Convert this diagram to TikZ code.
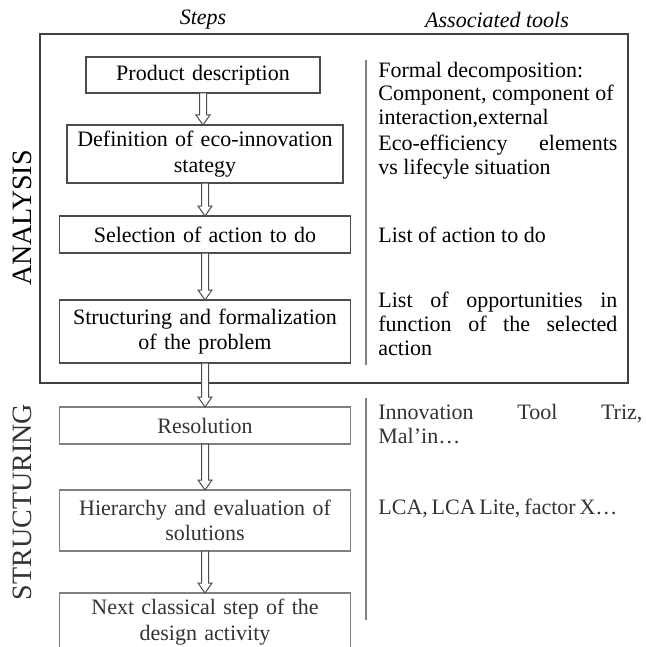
\documentclass[tikz,border=0pt]{standalone}
\usepackage{fontspec}
\setmainfont{Liberation Serif}
\usepackage{tikz}
\usetikzlibrary{calc, positioning}

\begin{document}
\begin{tikzpicture}[x=0.5pt, y=-0.5pt, font=\fontsize{11}{12.75}\selectfont]
  \tikzstyle{stepbox}=[draw=black!70, line width=0.6pt, align=center, inner xsep=0pt,
                       inner ysep=2pt, outer sep=0pt, text width=145.5pt, minimum height=18.5pt]
  \tikzstyle{faded}=[text=black!80]
  \tikzstyle{later}=[faded, draw=black!50]
  \tikzstyle{tool}=[anchor=base west, inner sep=0pt, align=justify, text width=119.5pt,
                    font=\fontsize{11}{12}\selectfont]
  \tikzstyle{phase}=[rotate=90, font=\fontsize{14}{14}\selectfont]
  \tikzstyle{header}=[font=\fontsize{11}{12}\selectfont\itshape]
  \tikzstyle{sepline}=[draw=black!50, line width=1pt]
  \tikzstyle{hollow}=[draw=black!70, fill=white, line width=0.5pt,
     to path={let \p1=(\tikztostart), \p2=(\tikztotarget) in
       (\x1-1.75pt,\y1) -- (\x1-1.75pt,\y2+5pt) -- (\x1-3.5pt,\y2+5pt) -- (\x1,\y2)
       -- (\x1+3.5pt,\y2+5pt) -- (\x1+1.75pt,\y2+5pt) -- (\x1+1.75pt,\y1) -- cycle}]

  \useasboundingbox (0,0) rectangle (646,647);

  % column titles
  \node[header] (steps) at (203,20) {Steps};
  \node[header] (tools) at (497,20) {Associated tools};

  % analysis frame
  \draw[draw=black!75, line width=0.8pt] (40,34) rectangle (628,383);
  \node[phase]        (ana)  at (22,218) {ANALYSIS};
  \node[phase, faded] (stru) at (22,502) {STRUCTURING};

  % steps
  \node[stepbox, text width=117pt, minimum height=18pt] (prod) at (203,75) {Product description};
  \node[stepbox, text width=138pt, minimum height=29pt, xshift=1pt] (strat) [below=16pt of prod]
       {Definition of eco-innovation\\stategy};
  \node[stepbox]                        (sel)  [below=16.5pt of strat] {Selection of action to do};
  \node[stepbox, minimum height=31.5pt] (form) [below=23.5pt of sel]
       {Structuring and formalization\\of the problem};
  \node[stepbox, later]                 (res)  [below=22pt of form]  {Resolution};
  \node[stepbox, later, minimum height=30.5pt] (hier) [below=23pt of res]
       {Hierarchy and evaluation of\\solutions};
  \node[stepbox, later, minimum height=29pt]   (next) [below=21pt of hier]
       {Next classical step of the\\design activity};

  % tools
  \draw[sepline] (366,60) -- (366,365);
  \draw[sepline] (366,398) -- (366,620);
  \node[tool] (decomp) at (378,77) {Formal decomposition:\\Component, component of\\interaction,external};
  \node[tool] (ecoeff) at (378,150) {Eco-efficiency elements\linebreak vs lifecyle situation};
  \node[tool] (actlist) at (378,242.5) {List of action to do};
  \node[tool] (opport) at (378,307.5) {List of opportunities in\linebreak function of the selected\linebreak action};
  \node[tool, faded, text width=132pt] (triz) at (378,419.5) {Innovation Tool Triz,\linebreak Mal’in…};
  \node[tool, faded] (lca) at (378,514.5) {LCA, LCA Lite, factor X…};

  \path (prod.south) edge[hollow] (strat.north)
        (strat.south) edge[hollow] (sel.north)
        (sel.south)   edge[hollow] (form.north)
        (form.south)  edge[hollow] (res.north)
        (res.south)   edge[hollow] (hier.north)
        (hier.south)  edge[hollow] (next.north);
\end{tikzpicture}
\end{document}
